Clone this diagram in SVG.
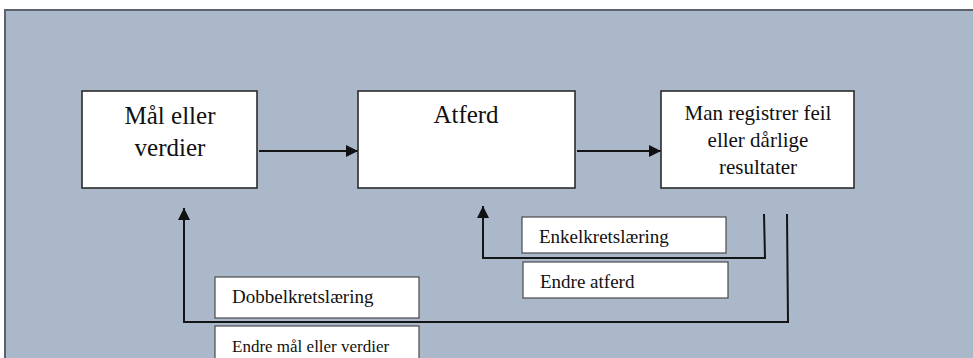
<svg xmlns="http://www.w3.org/2000/svg" width="973" height="358" viewBox="0 0 973 358">
  <style>
    .bg { fill: #abb8ca; stroke: #5b626b; stroke-width: 2; }
    .node { fill: #ffffff; stroke: #2b2b2b; stroke-width: 1.6; }
    .label { fill: #ffffff; stroke: #4a4a4a; stroke-width: 1.2; }
    .t { font-family: "Liberation Serif", "Times New Roman", serif; fill: #111111; }
    .big { font-size: 25px; }
    .mid { font-size: 21px; }
    .small { font-size: 19px; }
    .tiny { font-size: 17px; }
    .wire { fill: none; stroke: #141414; stroke-width: 2; }
  </style>
  <defs>
    <marker id="arrow" markerUnits="userSpaceOnUse" markerWidth="12" markerHeight="12" refX="12" refY="6" orient="auto">
      <path d="M0,0 L12,6 L0,12 z" fill="#111111"/>
    </marker>
  </defs>

  <!-- panel background -->
  <rect class="bg" x="5" y="10" width="980" height="360"/>

  <!-- flow connectors and feedback loops -->
  <g id="connectors">
    <line class="wire" x1="259" y1="151" x2="358" y2="151" marker-end="url(#arrow)"/>
    <line class="wire" x1="577" y1="151" x2="661" y2="151" marker-end="url(#arrow)"/>
    <polyline class="wire" points="764,214 765,258 483,258 483,206" marker-end="url(#arrow)"/>
    <polyline class="wire" points="787,214 788,322 184,322 184,208" marker-end="url(#arrow)"/>
  </g>

  <g id="node-maal">
    <rect class="node" x="82" y="91" width="175" height="97"/>
    <text class="t big" x="170" y="124" text-anchor="middle">Mål eller</text>
    <text class="t big" x="170" y="156" text-anchor="middle">verdier</text>
  </g>

  <g id="node-atferd">
    <rect class="node" x="358" y="91" width="217" height="97"/>
    <text class="t big" x="466" y="123" text-anchor="middle">Atferd</text>
  </g>

  <g id="node-feil">
    <rect class="node" x="661" y="91" width="193" height="97"/>
    <text class="t mid" x="758" y="120" text-anchor="middle">Man registrer feil</text>
    <text class="t mid" x="758" y="147" text-anchor="middle">eller dårlige</text>
    <text class="t mid" x="758" y="174" text-anchor="middle">resultater</text>
  </g>

  <g id="label-enkel">
    <rect class="label" x="522" y="217" width="204" height="36"/>
    <text class="t small" x="539" y="243">Enkelkretslæring</text>
  </g>

  <g id="label-endre-atferd">
    <rect class="label" x="523" y="262" width="205" height="36"/>
    <text class="t small" x="540" y="288">Endre atferd</text>
  </g>

  <g id="label-dobbel">
    <rect class="label" x="215" y="277" width="204" height="41"/>
    <text class="t small" x="232" y="303">Dobbelkretslæring</text>
  </g>

  <g id="label-endre-maal">
    <rect class="label" x="215" y="326" width="204" height="44"/>
    <text class="t tiny" x="232" y="352">Endre mål eller verdier</text>
  </g>
</svg>
